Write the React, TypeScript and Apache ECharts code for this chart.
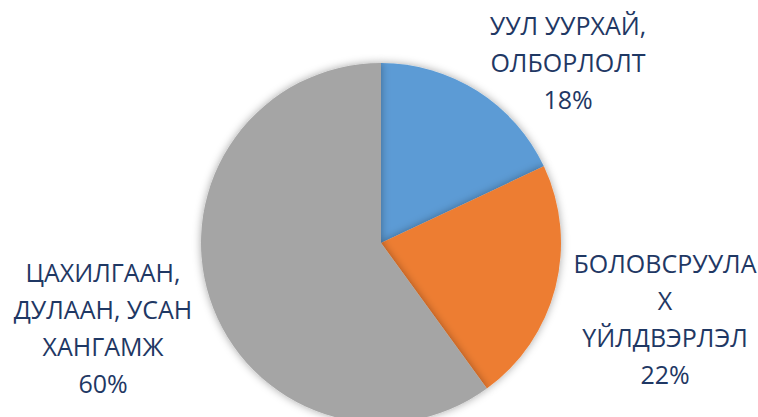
import React, { useEffect, useRef } from "react";
import * as echarts from "echarts";

const categories = [
  "УУЛ УУРХАЙ,\nОЛБОРЛОЛТ",
  "БОЛОВСРУУЛА\nХ\nҮЙЛДВЭРЛЭЛ",
  "ЦАХИЛГААН,\nДУЛААН, УСАН\nХАНГАМЖ",
];
const values = [18, 22, 60];
const colors = ["#5B9BD5", "#ED7D31", "#A5A5A5"];
const labelPos = [
  [568, 62],
  [665, 318],
  [103, 327],
];

export default function App() {
  const ref = useRef<HTMLDivElement>(null);
  useEffect(() => {
    document.body.style.margin = "0";
    const chart = echarts.init(ref.current!, null, { renderer: "svg" });
    chart.setOption({
      animation: false,
      backgroundColor: "#ffffff",
      series: [
        {
          type: "pie",
          center: [381, 243],
          radius: 180,
          startAngle: 90,
          clockwise: true,
          avoidLabelOverlap: false,
          data: categories.map((c, i) => ({
            name: c,
            value: values[i],
            itemStyle: { color: colors[i] },
          })),
          itemStyle: {
            shadowBlur: 8,
            shadowColor: "rgba(0,0,0,0.35)",
          },
          emphasis: { disabled: true },
          label: {
            show: true,
            position: "outside",
            overflow: "none",
            formatter: (p: any) => `${p.name}\n${Math.round(p.percent)}%`,
            color: "#1F3864",
            fontFamily: "Open Sans",
            fontSize: 25,
            lineHeight: 37,
            align: "center",
          },
          labelLine: { show: false },
          labelLayout: (p: any) => ({
            x: labelPos[p.dataIndex][0],
            y: labelPos[p.dataIndex][1],
            align: "center",
            verticalAlign: "middle",
          }),
        },
      ],
    });
    return () => chart.dispose();
  }, []);
  return <div ref={ref} style={{ width: 758, height: 417 }} />;
}
